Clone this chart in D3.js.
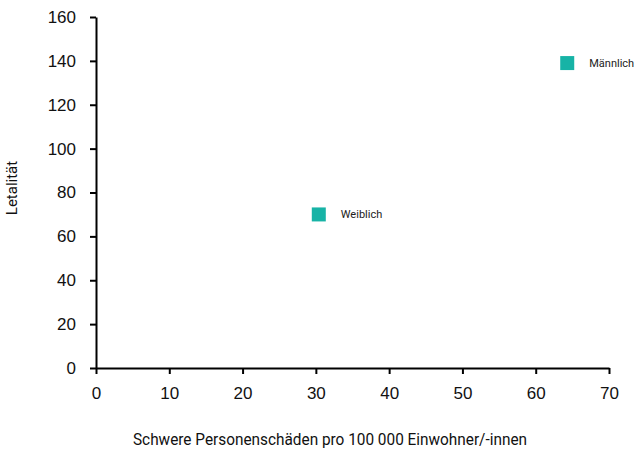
<!DOCTYPE html>
<html><head><meta charset="utf-8">
<script src="https://cdn.jsdelivr.net/npm/d3@7"></script>
<style>
body{margin:0;background:#fff;}
svg{display:block;font-family:Roboto,"Liberation Sans",sans-serif;}
</style></head><body>
<svg id="chart" width="638" height="454"></svg>
<script>
const labels = ["Weiblich", "Männlich"];
const xValues = [30.4, 64.3];
const yValues = [70, 139];
const xTicks = [0, 10, 20, 30, 40, 50, 60, 70];
const yTicks = [0, 20, 40, 60, 80, 100, 120, 140, 160];
const xTitle = "Schwere Personenschäden pro 100 000 Einwohner/-innen";
const yTitle = "Letalität";

const svg = d3.select("#chart");
const x = d3.scaleLinear().domain([0, 70]).range([96, 609]);
const y = d3.scaleLinear().domain([0, 160]).range([368, 17]);

const xAxis = svg.append("g").attr("transform", `translate(0,${y(0)})`)
  .call(d3.axisBottom(x).tickValues(xTicks).tickSize(6).tickPadding(13).tickSizeOuter(0));
const yAxis = svg.append("g").attr("transform", `translate(${x(0)},0)`)
  .call(d3.axisLeft(y).tickValues(yTicks).tickSize(6).tickPadding(14).tickSizeOuter(0));
[xAxis, yAxis].forEach(a => {
  a.selectAll("path").attr("stroke", "#000").attr("stroke-width", 2);
  a.selectAll("line").attr("stroke", "#000").attr("stroke-width", 2);
  a.selectAll("text").attr("fill", "#111").style("font-size", "17px").style("font-family", "inherit");
});

const pts = labels.map((l, i) => ({l, x: xValues[i], y: yValues[i]}));
svg.append("g").selectAll("rect").data(pts).join("rect")
  .attr("x", d => x(d.x) - 7).attr("y", d => y(d.y) - 7)
  .attr("width", 14).attr("height", 14).attr("fill", "#17b3a6");
svg.append("g").selectAll("text").data(pts).join("text")
  .attr("x", d => x(d.x) + 22).attr("y", d => y(d.y) + 4)
  .attr("font-size", 11).attr("fill", "#222").text(d => d.l);

svg.append("text").attr("x", 330).attr("y", 445)
  .attr("text-anchor", "middle").attr("font-size", 16).attr("fill", "#111")
  .attr("textLength", 394).attr("lengthAdjust", "spacingAndGlyphs").text(xTitle);
svg.append("text").attr("transform", `translate(17,188) rotate(-90)`)
  .attr("text-anchor", "middle").attr("font-size", 15).attr("fill", "#111").text(yTitle);
</script></body></html>
